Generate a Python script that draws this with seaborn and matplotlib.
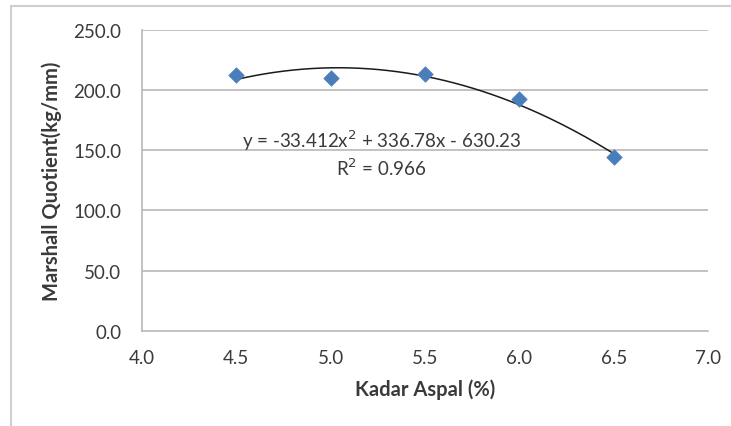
import numpy as np
import pandas as pd
import matplotlib
matplotlib.use("Agg")
import matplotlib.pyplot as plt
import seaborn as sns

# data
kadar_aspal = [4.5, 5.0, 5.5, 6.0, 6.5]
marshall_quotient = [212.3, 210.2, 213.5, 192.8, 144.3]
# trendline as printed on the chart (poly order 2)
trend_coef = [-33.412, 336.78, -630.23]
x_ticks = [4.0, 4.5, 5.0, 5.5, 6.0, 6.5, 7.0]
y_ticks = [0.0, 50.0, 100.0, 150.0, 200.0, 250.0]

df = pd.DataFrame({"x": kadar_aspal, "y": marshall_quotient})
xs = np.linspace(min(kadar_aspal), max(kadar_aspal), 200)
trend = pd.DataFrame({"x": xs, "y": np.polyval(trend_coef, xs)})

sns.set_style("white")
plt.rcParams['font.family'] = ['Lato', 'DejaVu Sans']

text_col = "#3a3a3a"
grid_col = "#b8b8b8"

fig = plt.figure(figsize=(7.31, 4.27), dpi=100)
ax = fig.add_axes([142 / 731, 1 - 332 / 427, (708 - 142) / 731, (332 - 30.7) / 427])

# outer frame (only top and left visible)
fig.add_artist(plt.Line2D([11 / 731, 1], [1 - 7 / 427] * 2, color="#cfcfcf", lw=1.5,
                          transform=fig.transFigure))
fig.add_artist(plt.Line2D([11 / 731] * 2, [0, 1 - 7 / 427], color="#cfcfcf", lw=1.5,
                          transform=fig.transFigure))

for yv in y_ticks[1:]:
    ax.axhline(yv, color=grid_col, lw=1.2, zorder=0)

sns.lineplot(data=trend, x="x", y="y", ax=ax, color="#1a1a1a", lw=1.1, zorder=2)
sns.scatterplot(data=df, x="x", y="y", ax=ax, marker="D", s=62, color="#4a7ebb",
                edgecolor="#4a7ebb", linewidth=0.5, zorder=3)

ax.set_xlim(4.0, 7.0)
ax.set_ylim(0, 250)
ax.set_xticks(x_ticks)
ax.set_yticks(y_ticks)
ax.set_xticklabels([f"{v:.1f}" for v in x_ticks])
ax.set_yticklabels([f"{v:.1f}" for v in y_ticks])
ax.tick_params(axis="both", length=0, labelsize=13.5, colors=text_col)
ax.tick_params(axis="x", pad=13)
ax.tick_params(axis="y", pad=15)

for s in ["top", "right"]:
    ax.spines[s].set_visible(False)
for s in ["left", "bottom"]:
    ax.spines[s].set_color(grid_col)
    ax.spines[s].set_linewidth(1.2)

ax.set_xlabel("Kadar Aspal (%)", fontsize=14.5, fontweight="bold", color=text_col, labelpad=9)
ax.set_ylabel("Marshall Quotient(kg/mm)", fontsize=14.5, fontweight="bold", color=text_col,
              labelpad=8)

ax.text(5.27, 159, "y = -33.412x$^2$ + 336.78x - 630.23", ha="center", va="center",
        fontsize=13.5, color=text_col)
ax.text(5.27, 136, "R$^2$ = 0.966", ha="center", va="center", fontsize=13.5, color=text_col)

fig.savefig("out.png", dpi=100)
